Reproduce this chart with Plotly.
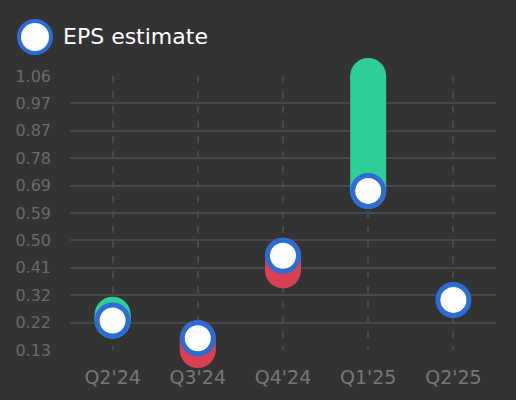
import plotly.graph_objects as go

# EPS per quarter
quarters = ["Q2'24", "Q3'24", "Q4'24", "Q1'25", "Q2'25"]
eps_estimate = [0.23, 0.17, 0.45, 0.67, 0.30]
eps_actual = [0.25, 0.13, 0.40, 1.06, None]

y_tickvals = [0.13, 0.223, 0.316, 0.409, 0.502, 0.595, 0.688, 0.781, 0.874, 0.967, 1.06]
y_ticktext = ["0.13", "0.22", "0.32", "0.41", "0.50", "0.59", "0.69", "0.78", "0.87", "0.97", "1.06"]

GREEN = "#2ecf97"
RED = "#d94052"
BLUE = "#2c6cd6"
BG = "#333333"
GRID = "#484848"

fig = go.Figure()

# actual vs estimate: thick bar with round ends, green for a beat, red for a miss
for q, est, act in zip(quarters, eps_estimate, eps_actual):
    if act is None:
        continue
    color = GREEN if act >= est else RED
    fig.add_trace(go.Scatter(
        x=[q, q], y=[est, act],
        mode="lines+markers",
        line=dict(color=color, width=36),
        marker=dict(color=color, size=36, line=dict(width=0)),
        cliponaxis=False,
        showlegend=False,
        hoverinfo="skip",
    ))

fig.add_trace(go.Scatter(
    x=quarters, y=eps_estimate,
    mode="markers",
    name="EPS estimate",
    marker=dict(color="white", size=31, line=dict(color=BLUE, width=5)),
    cliponaxis=False,
    showlegend=False,
))

# big legend swatch (plotly caps legend markers at 16px)
fig.add_shape(
    type="circle", xref="paper", yref="paper",
    xsizemode="pixel", ysizemode="pixel",
    xanchor=(35 - 70) / 426, yanchor=(400 - 37 - 50) / 274,
    x0=-16, x1=16, y0=-16, y1=16,
    fillcolor="white", line=dict(color=BLUE, width=4),
    layer="above",
)
fig.add_annotation(
    text="EPS estimate", xref="paper", yref="paper",
    x=(61 - 70) / 426, y=(400 - 37 - 50) / 274,
    xanchor="left", yanchor="middle", showarrow=False,
    font=dict(size=22, color="white"),
)

fig.update_layout(
    width=516, height=400,
    margin=dict(l=70, r=20, t=76, b=50),
    paper_bgcolor=BG, plot_bgcolor=BG,
    font=dict(family="DejaVu Sans"),
    showlegend=False,
)
fig.update_xaxes(
    type="category", range=[-0.5, 4.5],
    showgrid=True, gridcolor=GRID, gridwidth=1.5, griddash="7px,8px",
    showline=False, zeroline=False, ticks="",
    tickfont=dict(size=19, color="#777777"),
    ticklabelstandoff=14,
)
fig.update_yaxes(
    range=[0.13, 1.06],
    tickvals=y_tickvals, ticktext=y_ticktext,
    showgrid=True, gridcolor=GRID, gridwidth=1.5,
    showline=False, zeroline=False, ticks="",
    tickfont=dict(size=16, color="#6a6a6a"),
    ticklabelstandoff=18,
)

# the page's default body margin would shift the chart by 8px
fig.write_html("out.html", config={"displayModeBar": False},
               post_script="document.body.style.margin='0';")
